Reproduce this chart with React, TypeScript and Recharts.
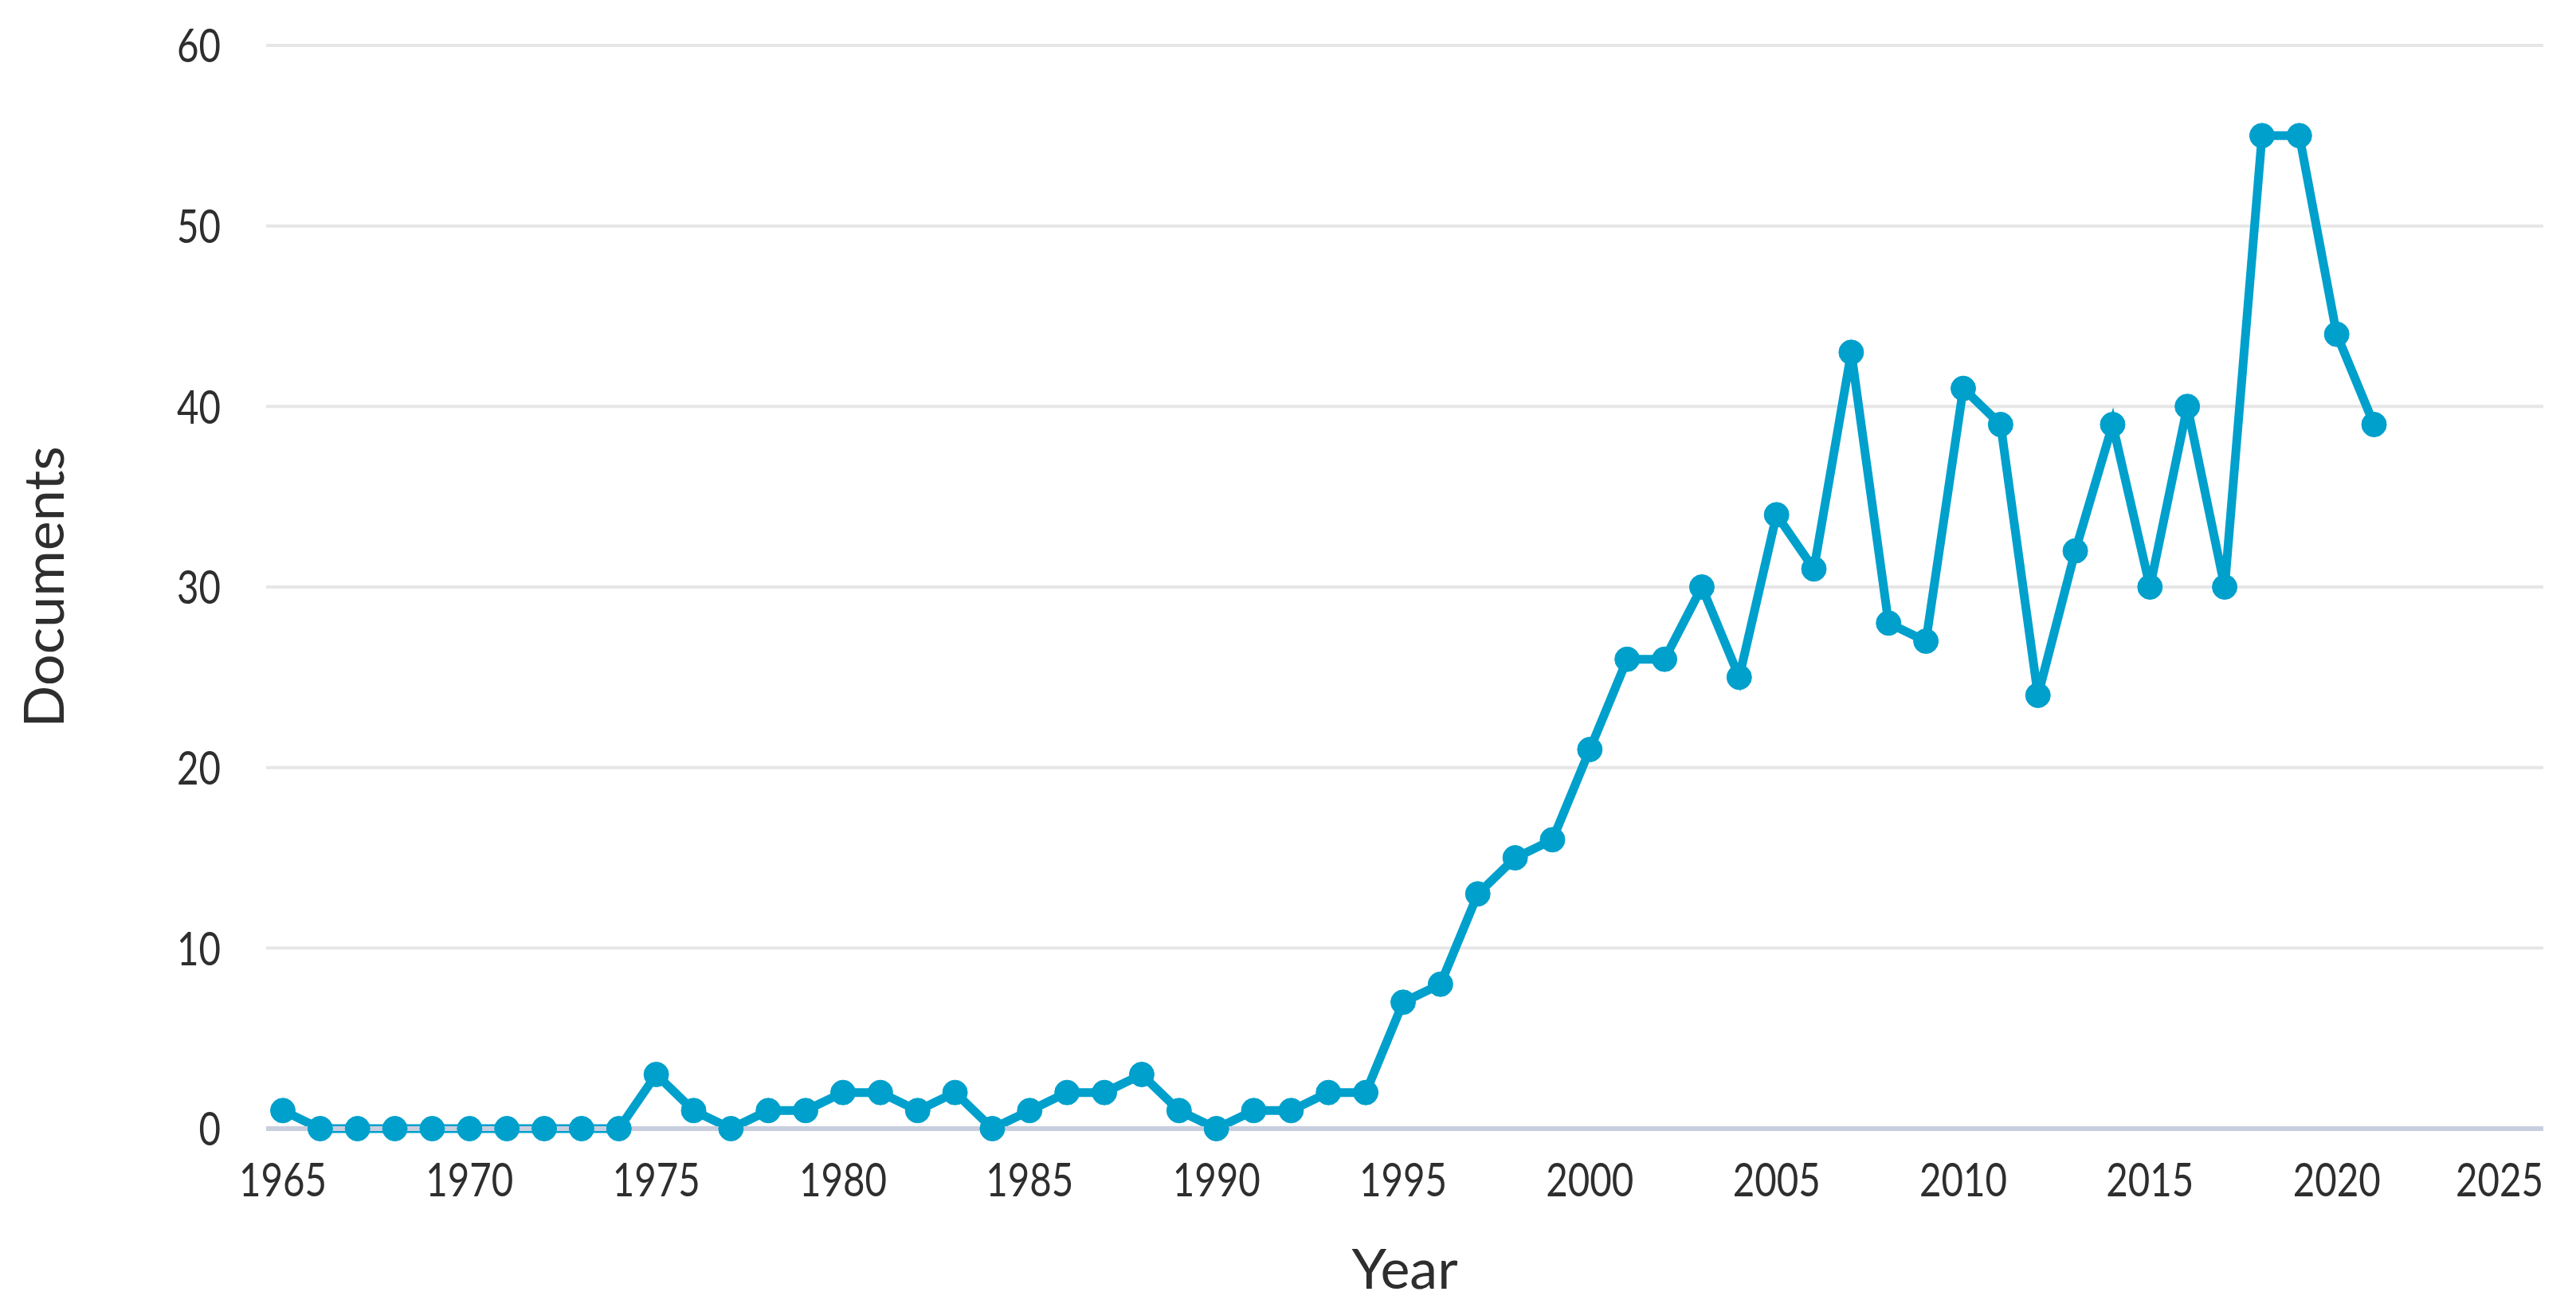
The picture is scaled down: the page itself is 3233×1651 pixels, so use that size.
import { CartesianGrid, Line, LineChart, XAxis, YAxis } from "recharts";

// documents per year
const years = [
  1965, 1966, 1967, 1968, 1969, 1970, 1971, 1972, 1973, 1974, 1975, 1976, 1977,
  1978, 1979, 1980, 1981, 1982, 1983, 1984, 1985, 1986, 1987, 1988, 1989, 1990,
  1991, 1992, 1993, 1994, 1995, 1996, 1997, 1998, 1999, 2000, 2001, 2002, 2003,
  2004, 2005, 2006, 2007, 2008, 2009, 2010, 2011, 2012, 2013, 2014, 2015, 2016,
  2017, 2018, 2019, 2020, 2021,
];
const documents = [
  1, 0, 0, 0, 0, 0, 0, 0, 0, 0, 3, 1, 0, 1, 1, 2, 2, 1, 2, 0, 1, 2, 2, 3, 1, 0,
  1, 1, 2, 2, 7, 8, 13, 15, 16, 21, 26, 26, 30, 25, 34, 31, 43, 28, 27, 41, 39,
  24, 32, 39, 30, 40, 30, 55, 55, 44, 39,
];
const xTicks = [1965, 1970, 1975, 1980, 1985, 1990, 1995, 2000, 2005, 2010, 2015, 2020, 2025];
const yTicks = [0, 10, 20, 30, 40, 50, 60];

const data = years.map((year, i) => ({ year, docs: documents[i] }));

const W = 3233;
const H = 1651;
const margin = { top: 57, right: 41, left: 0, bottom: 0 };
const plotRight = W - margin.right;
const blue = "#00a0cc";
const textColor = "#2e2e2e";
const tickFont = "Lato, 'Open Sans', sans-serif";
const titleFont = "Lato, 'Open Sans', sans-serif";
const digitW = 27.5; // condensed digits in the original

function XTick(props: any) {
  const { x, y, payload } = props;
  const label = String(payload.value);
  const w = label.length * digitW;
  const cx = Math.min(x, plotRight - w / 2);
  return (
    <text
      x={cx - w / 2}
      y={y}
      dy="0.71em"
      textLength={w}
      lengthAdjust="spacingAndGlyphs"
      fill={textColor}
      fontSize={59}
      fontFamily={tickFont}
    >
      {label}
    </text>
  );
}

function YTick(props: any) {
  const { x, y, payload } = props;
  const label = String(payload.value);
  const w = label.length * digitW;
  return (
    <text
      x={x - w}
      y={y}
      dy="0.36em"
      textLength={w}
      lengthAdjust="spacingAndGlyphs"
      fill={textColor}
      fontSize={59}
      fontFamily={tickFont}
    >
      {label}
    </text>
  );
}

export default function App() {
  return (
    <div style={{ background: "#fff", width: W, height: H }}>
      <style>{`body{margin:0}`}</style>
      <LineChart width={W} height={H} data={data} margin={margin}>
        <CartesianGrid vertical={false} stroke="#e6e6e6" strokeWidth={4} />
        <XAxis
          dataKey="year"
          type="number"
          domain={[1965, 2025]}
          ticks={xTicks}
          padding={{ left: 21, right: 25 }}
          height={234}
          tickLine={false}
          tickSize={0}
          tickMargin={43}
          axisLine={{ stroke: "#c9cede", strokeWidth: 6 }}
          tick={<XTick />}
          interval={0}
          label={(p: any) => {
            const vb = p.viewBox;
            return (
              <text
                x={vb.x + vb.width / 2}
                y={vb.y + 201}
                textAnchor="middle"
                fill={textColor}
                fontSize={70}
                fontFamily={titleFont}
              >
                Year
              </text>
            );
          }}
        />
        <YAxis
          type="number"
          domain={[0, 60]}
          ticks={yTicks}
          width={334}
          axisLine={false}
          tickLine={false}
          tickSize={0}
          tickMargin={57}
          interval={0}
          tick={<YTick />}
          label={(p: any) => {
            const vb = p.viewBox;
            const cx = 80;
            const cy = vb.y + vb.height / 2;
            return (
              <text
                x={cx}
                y={cy}
                textAnchor="middle"
                transform={`rotate(-90 ${cx} ${cy})`}
                fill={textColor}
                fontSize={70}
                fontFamily={titleFont}
              >
                Documents
              </text>
            );
          }}
        />
        <Line
          type="linear"
          dataKey="docs"
          stroke={blue}
          strokeWidth={11}
          dot={{ r: 15.5, fill: blue, stroke: blue, strokeWidth: 1 }}
          activeDot={false}
          isAnimationActive={false}
        />
      </LineChart>
    </div>
  );
}
